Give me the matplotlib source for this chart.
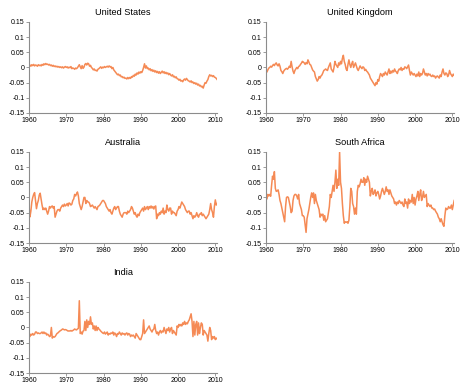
import numpy as np
import matplotlib
matplotlib.use('Agg')
import matplotlib.pyplot as plt

plt.rcParams['font.family'] = ['Liberation Sans', 'DejaVu Sans']

# quarterly values, 1960Q1 .. 2010Q3
us = [
    0.005, 0.008, 0.004, 0.009,  # 1960
    0.006, 0.010, 0.005, 0.008,
    0.007, 0.004, 0.009, 0.006,
    0.008, 0.005, 0.010, 0.007,
    0.012, 0.009, 0.013, 0.010,
    0.011, 0.008, 0.010, 0.006,
    0.008, 0.004, 0.007, 0.003,
    0.005, 0.002, 0.004, 0.001,
    0.003, 0.000, 0.002, -0.001,
    0.002, -0.002, 0.001, 0.003,
    0.000, 0.002, -0.002, 0.001,  # 1970
    -0.001, 0.003, -0.004, -0.002,
    -0.003, -0.006, -0.002, -0.004,
    -0.001, 0.004, 0.009, 0.002,
    -0.004, 0.006, -0.003, 0.001,
    0.010, 0.013, 0.008, 0.014,
    0.012, 0.004, 0.007, 0.000,
    -0.003, -0.008, -0.005, -0.010,
    -0.009, -0.012, -0.006, -0.004,
    -0.001, 0.002, -0.003, 0.001,
    -0.001, 0.003, 0.000, 0.002,  # 1980
    0.004, 0.001, 0.005, 0.002,
    0.003, -0.004, 0.000, -0.008,
    -0.012, -0.016, -0.020, -0.024,
    -0.022, -0.027, -0.025, -0.031,
    -0.030, -0.034, -0.032, -0.036,
    -0.035, -0.038, -0.033, -0.037,
    -0.033, -0.036, -0.030, -0.032,
    -0.026, -0.029, -0.022, -0.025,
    -0.018, -0.022, -0.015, -0.019,
    -0.014, -0.017, -0.010, 0.000,  # 1990
    0.012, -0.002, 0.005, -0.004,
    -0.002, -0.008, -0.004, -0.011,
    -0.007, -0.013, -0.009, -0.015,
    -0.011, -0.017, -0.013, -0.019,
    -0.014, -0.020, -0.016, -0.012,
    -0.018, -0.014, -0.020, -0.016,
    -0.021, -0.018, -0.024, -0.020,
    -0.025, -0.028, -0.024, -0.031,
    -0.029, -0.034, -0.031, -0.037,
    -0.038, -0.042, -0.039, -0.045,  # 2000
    -0.043, -0.047, -0.041, -0.038,
    -0.042, -0.036, -0.040, -0.044,
    -0.045, -0.048, -0.044, -0.050,
    -0.048, -0.053, -0.050, -0.055,
    -0.052, -0.058, -0.055, -0.061,
    -0.059, -0.064, -0.062, -0.068,
    -0.058, -0.050, -0.052, -0.045,
    -0.040, -0.030, -0.024, -0.028,
    -0.026, -0.030, -0.027, -0.032,
    -0.033, -0.036, -0.040,  # 2010
]

uk = [
    -0.005, -0.015, -0.008, -0.002,  # 1960
    0.000, 0.004, 0.001, 0.006,
    0.010, 0.006, 0.012, 0.015,
    0.008, 0.005, 0.012, 0.004,
    -0.010, -0.014, -0.020, -0.012,
    -0.008, -0.005, -0.003, -0.006,
    -0.002, 0.004, 0.000, 0.020,
    0.002, -0.012, -0.020, -0.010,
    -0.005, 0.000, -0.004, 0.003,
    0.005, 0.010, 0.014, 0.020,
    0.018, 0.015, 0.010, 0.016,  # 1970
    0.012, 0.025, 0.018, 0.010,
    0.008, 0.000, -0.008, -0.012,
    -0.015, -0.030, -0.038, -0.045,
    -0.040, -0.030, -0.035, -0.028,
    -0.025, -0.018, -0.010, -0.008,
    -0.005, -0.008, -0.010, 0.000,
    0.008, 0.015, -0.005, -0.010,
    -0.015, 0.000, 0.020, 0.010,
    0.005, 0.000, 0.015, 0.008,
    0.020, 0.012, 0.030, 0.040,  # 1980
    0.020, 0.010, -0.005, -0.010,
    0.010, 0.025, 0.010, 0.000,
    0.012, 0.020, 0.000, 0.008,
    0.015, 0.005, -0.005, -0.010,
    -0.002, 0.005, 0.000, -0.004,
    0.002, 0.000, -0.010, -0.006,
    -0.012, -0.015, -0.020, -0.025,
    -0.035, -0.040, -0.045, -0.050,
    -0.055, -0.060, -0.050, -0.055,
    -0.040, -0.045, -0.030, -0.020,  # 1990
    -0.025, -0.030, -0.020, -0.025,
    -0.015, -0.020, -0.025, -0.015,
    -0.005, -0.020, -0.012, -0.018,
    -0.010, -0.015, -0.005, -0.012,
    -0.015, -0.020, -0.010, -0.005,
    -0.008, 0.000, -0.010, -0.004,
    -0.006, 0.002, 0.000, -0.004,
    0.002, 0.008, -0.010, -0.025,
    -0.015, -0.020, -0.025, -0.020,
    -0.025, -0.030, -0.022, -0.028,  # 2000
    -0.015, -0.030, -0.020, -0.025,
    -0.020, -0.005, -0.015, -0.025,
    -0.020, -0.028, -0.020, -0.025,
    -0.022, -0.028, -0.030, -0.025,
    -0.030, -0.028, -0.035, -0.030,
    -0.028, -0.032, -0.035, -0.025,
    -0.030, -0.015, -0.005, -0.020,
    -0.025, -0.018, -0.020, -0.030,
    -0.025, -0.010, -0.020, -0.025,
    -0.030, -0.022, -0.025,  # 2010
]

australia = [
    -0.027, -0.064, -0.045, -0.015,  # 1960
    0.000, 0.010, 0.016, -0.010,
    -0.037, -0.020, -0.010, 0.008,
    0.014, -0.005, -0.025, -0.040,
    -0.035, -0.040, -0.035, -0.045,
    -0.055, -0.045, -0.030, -0.035,
    -0.030, -0.028, -0.035, -0.030,
    -0.065, -0.055, -0.045, -0.040,
    -0.040, -0.045, -0.035, -0.030,
    -0.025, -0.030, -0.022, -0.028,
    -0.025, -0.020, -0.028, -0.018,  # 1970
    -0.020, -0.025, -0.022, -0.010,
    -0.005, 0.010, 0.005, 0.012,
    0.018, 0.005, -0.020, -0.030,
    -0.040, -0.030, -0.015, 0.000,
    0.000, -0.020, -0.010, -0.015,
    -0.015, -0.020, -0.030, -0.028,
    -0.025, -0.030, -0.035, -0.030,
    -0.035, -0.040, -0.030, -0.028,
    -0.025, -0.020, -0.015, -0.010,
    -0.010, -0.015, -0.020, -0.030,  # 1980
    -0.035, -0.040, -0.045, -0.040,
    -0.050, -0.055, -0.045, -0.035,
    -0.030, -0.040, -0.035, -0.030,
    -0.030, -0.045, -0.055, -0.060,
    -0.065, -0.055, -0.050, -0.050,
    -0.050, -0.055, -0.045, -0.050,
    -0.045, -0.040, -0.030, -0.035,
    -0.045, -0.055, -0.050, -0.060,
    -0.065, -0.055, -0.060, -0.050,
    -0.045, -0.040, -0.035, -0.045,  # 1990
    -0.030, -0.040, -0.035, -0.030,
    -0.040, -0.030, -0.035, -0.028,
    -0.035, -0.030, -0.038, -0.030,
    -0.028, -0.070, -0.055, -0.060,
    -0.050, -0.055, -0.045, -0.050,
    -0.035, -0.055, -0.045, -0.050,
    -0.025, -0.040, -0.045, -0.035,
    -0.035, -0.055, -0.045, -0.050,
    -0.050, -0.055, -0.060, -0.045,
    -0.040, -0.030, -0.035, -0.025,  # 2000
    -0.015, -0.020, -0.025, -0.030,
    -0.040, -0.045, -0.050, -0.045,
    -0.045, -0.055, -0.050, -0.060,
    -0.070, -0.060, -0.065, -0.060,
    -0.050, -0.060, -0.065, -0.055,
    -0.055, -0.050, -0.060, -0.055,
    -0.060, -0.065, -0.070, -0.065,
    -0.060, -0.055, -0.040, -0.020,
    -0.040, -0.050, -0.065, -0.030,
    -0.008, -0.025, -0.020,  # 2010
]

south_africa = [
    0.016, -0.005, 0.010, 0.005,  # 1960
    0.010, 0.004, 0.040, 0.070,
    0.060, 0.085, 0.030, 0.020,
    0.022, 0.025, 0.010, -0.010,
    -0.020, -0.035, -0.050, -0.065,
    -0.080, -0.030, 0.000, 0.002,
    0.000, -0.015, -0.030, -0.050,
    -0.045, -0.010, 0.005, 0.010,
    0.010, 0.005, -0.005, 0.010,
    -0.020, -0.030, -0.040, -0.060,
    -0.060, -0.065, -0.090, -0.115,  # 1970
    -0.070, -0.055, -0.040, -0.020,
    0.000, 0.015, 0.000, 0.015,
    -0.020, 0.010, -0.010, -0.020,
    -0.030, -0.040, -0.065, -0.055,
    -0.060, -0.055, -0.075, -0.060,
    -0.080, -0.075, -0.070, -0.050,
    -0.030, 0.010, 0.000, 0.020,
    0.040, 0.020, 0.050, 0.090,
    0.030, 0.060, 0.040, 0.150,
    0.050, 0.030, -0.020, -0.060,  # 1980
    -0.085, -0.080, -0.082, -0.080,
    -0.085, -0.075, -0.030, 0.030,
    0.020, -0.020, -0.030, -0.055,
    -0.035, -0.055, 0.020, 0.040,
    0.035, 0.045, 0.060, 0.050,
    0.050, 0.065, 0.040, 0.060,
    0.050, 0.070, 0.060, 0.050,
    0.005, 0.020, 0.030, 0.010,
    0.015, 0.025, 0.005, 0.015,
    0.020, 0.010, -0.005, 0.005,  # 1990
    0.020, 0.030, 0.020, 0.010,
    0.020, 0.035, 0.020, 0.025,
    0.010, 0.025, 0.015, 0.005,
    0.000, -0.005, -0.020, -0.015,
    -0.025, -0.015, -0.020, -0.010,
    -0.015, -0.020, -0.015, -0.025,
    -0.030, -0.005, -0.020, -0.015,
    -0.035, -0.005, -0.020, -0.010,
    -0.015, 0.010, -0.020, 0.000,
    -0.025, -0.005, 0.005, 0.020,  # 2000
    -0.010, 0.010, 0.025, -0.010,
    0.000, 0.020, 0.000, 0.005,
    0.010, -0.030, -0.020, -0.025,
    -0.030, -0.025, -0.035, -0.035,
    -0.040, -0.038, -0.045, -0.050,
    -0.055, -0.065, -0.070, -0.080,
    -0.070, -0.080, -0.090, -0.095,
    -0.060, -0.035, -0.040, -0.038,
    -0.030, -0.035, -0.035, -0.025,
    -0.040, -0.025, -0.010,  # 2010
]

india = [
    -0.025, -0.030, -0.022, -0.025,  # 1960
    -0.020, -0.025, -0.022, -0.015,
    -0.015, -0.020, -0.018, -0.020,
    -0.020, -0.018, -0.015, -0.020,
    -0.015, -0.020, -0.018, -0.025,
    -0.022, -0.025, -0.030, -0.028,
    0.000, -0.035, -0.030, -0.032,
    -0.030, -0.025, -0.020, -0.018,
    -0.015, -0.012, -0.010, -0.008,
    -0.005, -0.006, -0.008, -0.007,
    -0.008, -0.010, -0.012, -0.011,  # 1970
    -0.012, -0.010, -0.012, -0.010,
    -0.008, -0.005, -0.007, -0.008,
    -0.005, -0.003, 0.088, -0.020,
    -0.015, -0.022, -0.012, -0.010,
    0.020, -0.010, 0.025, 0.000,
    0.020, 0.010, 0.035, 0.010,
    0.015, -0.005, 0.005, -0.010,
    0.005, -0.010, 0.000, -0.005,
    -0.008, -0.012, -0.015, -0.018,
    -0.020, -0.015, -0.022, -0.018,  # 1980
    -0.015, -0.025, -0.020, -0.022,
    -0.018, -0.020, -0.015, -0.025,
    -0.018, -0.022, -0.030, -0.020,
    -0.022, -0.015, -0.020, -0.025,
    -0.018, -0.022, -0.020, -0.025,
    -0.020, -0.018, -0.025, -0.020,
    -0.022, -0.030, -0.025, -0.028,
    -0.025, -0.030, -0.035, -0.020,
    -0.025, -0.030, -0.035, -0.040,
    -0.040, -0.030, -0.020, 0.025,  # 1990
    -0.020, -0.015, -0.010, -0.005,
    0.000, 0.005, -0.005, -0.010,
    -0.015, -0.008, -0.005, 0.010,
    -0.010, -0.020, -0.015, -0.025,
    -0.015, -0.010, -0.018, -0.012,
    -0.015, 0.000, -0.010, -0.020,
    -0.005, -0.010, 0.000, -0.015,
    -0.005, 0.000, -0.020, -0.010,
    -0.015, -0.020, -0.025, 0.005,
    0.000, 0.010, 0.005, 0.010,  # 2000
    0.005, 0.015, 0.010, 0.020,
    0.010, 0.015, 0.012, 0.020,
    0.025, 0.035, 0.045, 0.020,
    -0.030, 0.020, -0.025, 0.010,
    0.020, -0.025, 0.015, -0.020,
    0.000, 0.015, 0.010, -0.025,
    -0.010, -0.015, -0.020, -0.025,
    -0.045, -0.020, 0.000, -0.010,
    -0.040, -0.030, -0.035, -0.030,
    -0.040, -0.035, -0.038,  # 2010
]

countries = ['United States', 'United Kingdom', 'Australia', 'South Africa', 'India']
series = [us, uk, australia, south_africa, india]

yticks = [0.15, 0.1, 0.05, 0, -0.05, -0.1, -0.15]
ytick_labels = ['0.15', '0.1', '0.05', '0', '-0.05', '-0.1', '-0.15']
xticks = [1960, 1970, 1980, 1990, 2000, 2010]

line_color = '#f58a55'
axis_color = '#8c8c8c'

fig = plt.figure(figsize=(4.74, 3.91), dpi=100)

lefts = [0.0612, 0.5612]
bottoms = [0.711, 0.3785, 0.046]
w, h = 0.397, 0.233

for i, (name, vals) in enumerate(zip(countries, series)):
    row, col = divmod(i, 2)
    ax = fig.add_axes([lefts[col], bottoms[row], w, h])
    t = 1960 + np.arange(len(vals)) * 0.25
    ax.plot(t, vals, color=line_color, lw=1.1)
    ax.set_xlim(1960, 2010.5)
    ax.set_ylim(-0.15, 0.15)
    ax.set_yticks(yticks)
    ax.set_yticklabels(ytick_labels)
    ax.set_xticks(xticks)
    for s in ['top', 'right']:
        ax.spines[s].set_visible(False)
    for s in ['left', 'bottom']:
        ax.spines[s].set_color(axis_color)
        ax.spines[s].set_linewidth(0.8)
    ax.tick_params(axis='both', labelsize=5, length=2, width=0.6,
                   color=axis_color, pad=1)
    ax.set_title(name, fontsize=6.6, pad=5)

fig.savefig('out.png', dpi=100)
